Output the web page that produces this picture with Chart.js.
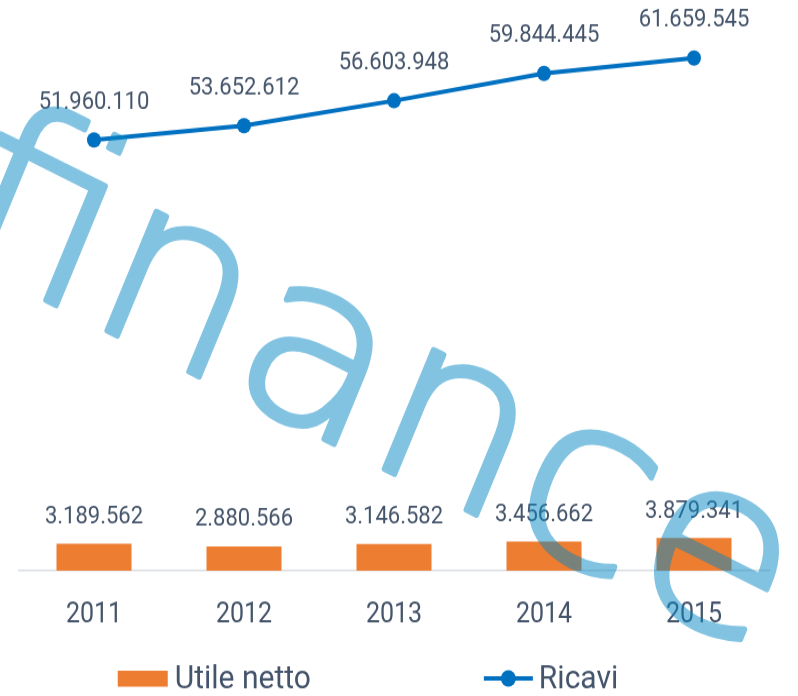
<!DOCTYPE html>
<html>
<head>
<meta charset="utf-8">
<script src="https://cdn.jsdelivr.net/npm/chart.js@4"></script>
<style>
  html { overflow: hidden; }
  html, body { margin: 0; padding: 0; background: #fff; width: 798px; height: 696px; }
  /* the reference is a slightly stretched picture, so stretch the canvas too */
  #wrap { width: 798px; height: 633px; transform: scaleY(1.0995); transform-origin: 0 0; }
</style>
</head>
<body>
<div id="wrap"><canvas id="chart" width="798" height="633"></canvas></div>
<script>
const years      = ["2011", "2012", "2013", "2014", "2015"];
const utileNetto = [3189562, 2880566, 3146582, 3456662, 3879341];
const ricavi     = [51960110, 53652612, 56603948, 59844445, 61659545];
const seriesNames = ["Utile netto", "Ricavi"];

const TEXT = "#44546A";
const ORANGE = "#ED7D31";
const BLUE = "#0070C0";
const FONT = "Roboto, 'Liberation Sans', sans-serif";

// 51960110 -> "51.960.110"
const fmt = v => String(v).replace(/\B(?=(\d{3})+(?!\d))/g, ".");

/* ── value labels above bars and points ── */
const valueLabels = {
    id: "valueLabels",
    afterDatasetsDraw(chart) {
        const ctx = chart.ctx;
        ctx.save();
        ctx.font = "22px " + FONT;
        ctx.fillStyle = TEXT;
        ctx.textAlign = "center";
        ctx.textBaseline = "middle";
        chart.data.datasets.forEach((ds, i) => {
            const meta = chart.getDatasetMeta(i);
            const lift = ds.type === "line" ? 34 : 24;
            meta.data.forEach((el, j) => ctx.fillText(fmt(ds.data[j]), el.x, el.y - lift));
        });
        ctx.restore();
    }
};

/* ── legend: orange box + line with marker ── */
const legendBox = {
    id: "legendBox",
    afterDraw(chart) {
        const ctx = chart.ctx;
        const cy = 617;
        const gap = 173;
        ctx.save();
        ctx.font = "30px " + FONT;
        ctx.textBaseline = "middle";
        ctx.textAlign = "left";
        const w1 = 50 + 7 + ctx.measureText(seriesNames[0]).width;
        const w2 = 49 + 6 + ctx.measureText(seriesNames[1]).width;
        let x = 368 - (w1 + gap + w2) / 2;

        ctx.fillStyle = ORANGE;
        ctx.fillRect(x, cy - 7, 50, 14.5);
        ctx.fillStyle = TEXT;
        ctx.fillText(seriesNames[0], x + 57, cy + 1);

        x += w1 + gap;
        ctx.strokeStyle = BLUE;
        ctx.lineWidth = 4;
        ctx.beginPath(); ctx.moveTo(x, cy); ctx.lineTo(x + 49, cy); ctx.stroke();
        ctx.fillStyle = BLUE;
        ctx.beginPath(); ctx.arc(x + 24.5, cy, 7.5, 0, Math.PI * 2); ctx.fill();
        ctx.fillStyle = TEXT;
        ctx.fillText(seriesNames[1], x + 55, cy + 1);
        ctx.restore();
    }
};

/* ── "finance" watermark over everything (drawn opaque off-screen, then blended at 50%) ── */
const watermark = {
    id: "watermark",
    afterDraw(chart) {
        const off = document.createElement("canvas");
        off.width = chart.width;
        off.height = chart.height;
        const o = off.getContext("2d");
        o.translate(-58, 226);
        o.rotate(24.4 * Math.PI / 180);
        o.scale(1.12, 1);               // wider, rounder letters
        o.font = "200 218px 'DejaVu Sans', sans-serif";
        o.fillStyle = o.strokeStyle = "rgb(5,135,195)";
        o.lineWidth = 5;
        o.lineJoin = "round";
        o.fillText("finance", 0, 0);
        o.strokeText("finance", 0, 0);

        const ctx = chart.ctx;
        ctx.save();
        ctx.globalAlpha = 0.5;
        ctx.drawImage(off, 0, 0);
        ctx.restore();
    }
};

new Chart(document.getElementById("chart"), {
    data: {
        labels: years,
        datasets: [
            {
                type: "bar",
                label: seriesNames[0],
                data: utileNetto,
                yAxisID: "y",
                backgroundColor: ORANGE,
                barPercentage: 0.5,
                categoryPercentage: 1
            },
            {
                type: "line",
                label: seriesNames[1],
                data: ricavi,
                yAxisID: "y2",
                borderColor: BLUE,
                backgroundColor: BLUE,
                borderWidth: 4,
                pointRadius: 7,
                pointBorderWidth: 0,
                pointBackgroundColor: BLUE,
                tension: 0,
                clip: false
            }
        ]
    },
    options: {
        responsive: false,
        devicePixelRatio: 1,
        animation: false,
        layout: { padding: { top: 10, left: 19, right: 29, bottom: 32 } },
        plugins: { legend: { display: false }, tooltip: { enabled: false } },
        scales: {
            x: {
                grid: { display: false, drawTicks: false },
                border: { display: true, color: "#D9DDE3", width: 1.5 },
                ticks: { color: TEXT, font: { family: FONT, size: 25 }, padding: 26 }
            },
            y:  { display: false, min: 0, max: 66280000 },
            y2: { display: false, min: 950000, max: 67230000 }
        }
    },
    plugins: [valueLabels, legendBox, watermark]
});
</script>
</body>
</html>
